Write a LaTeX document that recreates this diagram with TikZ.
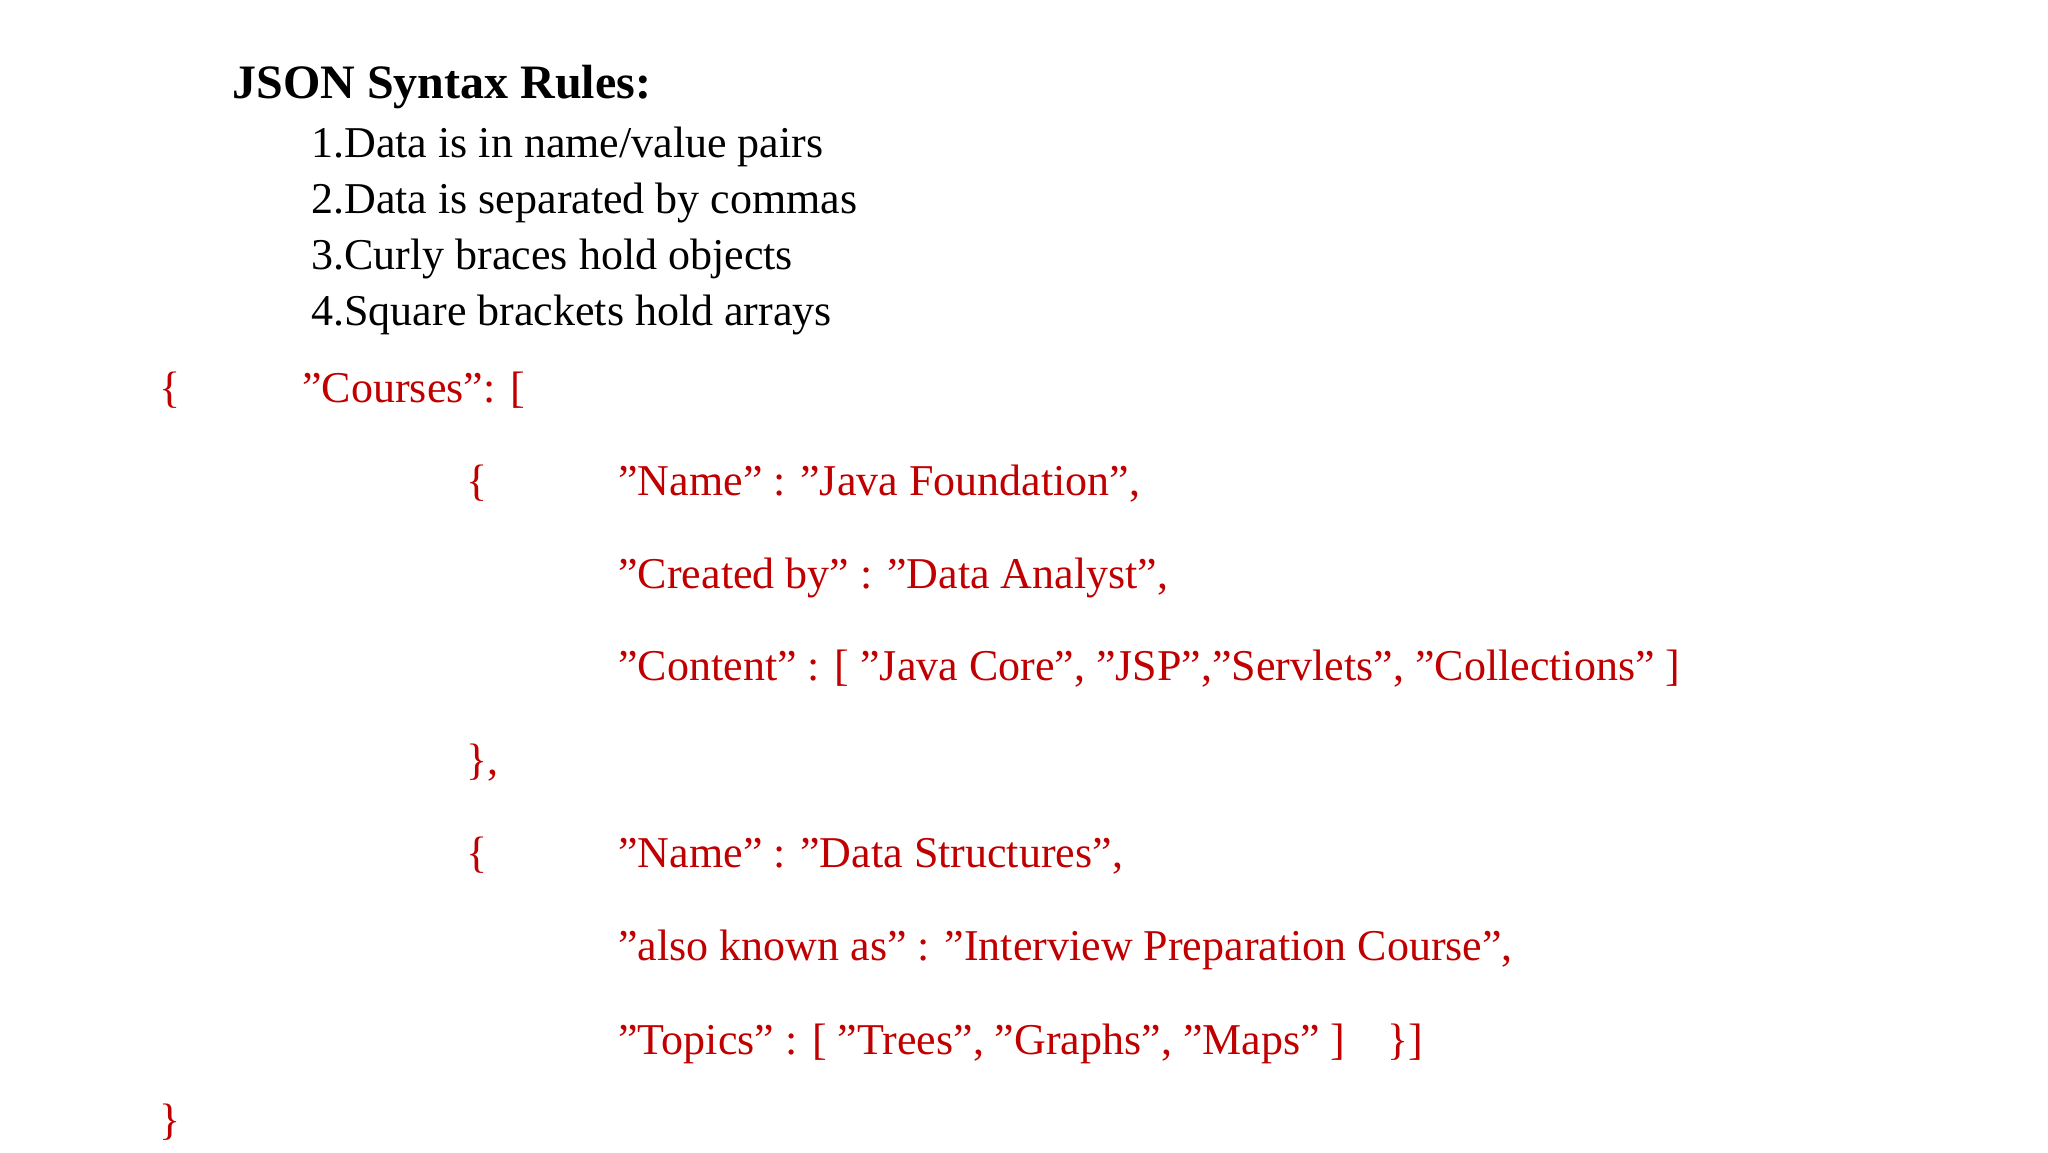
\documentclass[tikz,border=0pt]{standalone}
\usepackage{fontspec}
\setmainfont{Liberation Serif}
\definecolor{jred}{HTML}{C00000}
\begin{document}
\begin{tikzpicture}[x=0.5pt,y=-0.5pt,
  t/.style={anchor=base west,inner sep=0pt,font=\fontsize{22}{26}\selectfont},
  r/.style={t,text=jred}]
\useasboundingbox (0,0) rectangle (2048,1152);
\node[t,font=\bfseries\fontsize{24}{28}\selectfont] (title) at (232,98) {JSON Syntax Rules:};
\node[t] (l1) at (311,157) {1.Data is in name/value pairs};
\node[t] (l2) at (311,213) {2.Data is separated by commas};
\node[t] (l3) at (311,269) {3.Curly braces hold objects};
\node[t] (l4) at (311,325) {4.Square brackets hold arrays};
\node[r] (b0) at (159,402) {\{};
\node[r] (c0) at (302,402) {"Courses": [};
\node[r] (b1) at (466,495) {\{};
\node[r] (c1) at (618,495) {"Name" : "Java Foundation",};
\node[r] (c2) at (618,588) {"Created by" : "Data Analyst",};
\node[r] (c3) at (618,680) {"Content" : [ "Java Core", "JSP","Servlets", "Collections" ]};
\node[r] (b2) at (466,774) {\},};
\node[r] (b3) at (466,867) {\{};
\node[r] (c4) at (618,867) {"Name" : "Data Structures",};
\node[r] (c5) at (618,960) {"also known as" : "Interview Preparation Course",};
\node[r] (c6) at (618,1054) {"Topics" : [ "Trees", "Graphs", "Maps" ]};
\node[r] (b4) at (1387,1054) {\}]};
\node[r] (b5) at (159,1134) {\}};
\end{tikzpicture}
\end{document}
